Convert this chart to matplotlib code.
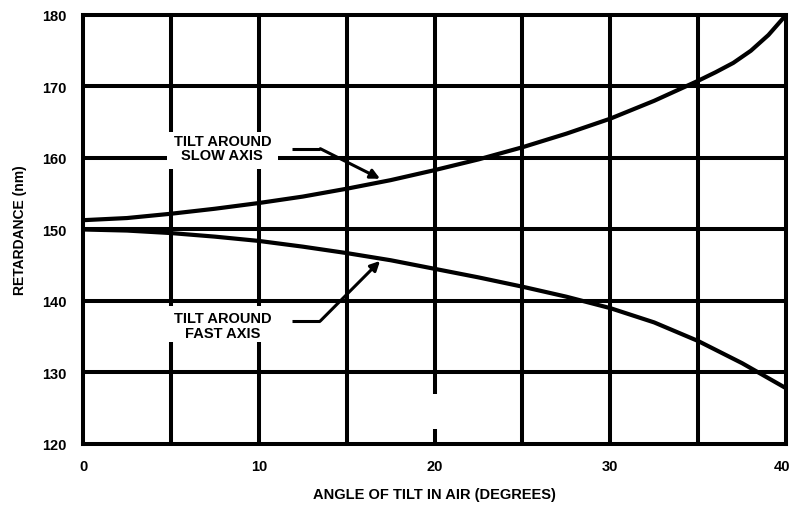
#!/usr/bin/env python3
import matplotlib
matplotlib.use("Agg")
import matplotlib.pyplot as plt
import matplotlib.transforms as mtransforms
from matplotlib.patches import Rectangle


# tilt angle in air (degrees) and retardance (nm)
SLOW_ANGLE = [0, 2.5, 5, 7.5, 10, 12.5, 15, 17.5, 20, 22.5, 25, 27.5, 30, 32.5, 35, 36, 37, 38, 39, 40]
SLOW_RET = [151.3, 151.6, 152.2, 152.9, 153.7, 154.6, 155.7, 156.9, 158.3, 159.8, 161.5, 163.4,
            165.5, 168.0, 170.8, 172.0, 173.3, 175.0, 177.2, 180.0]

FAST_ANGLE = [0, 2.5, 5, 7.5, 10, 12.5, 15, 17.5, 20, 22.5, 25, 27.5, 30, 32.5, 35, 37.5, 40]
FAST_RET = [150.0, 149.85, 149.5, 149.0, 148.4, 147.6, 146.7, 145.7, 144.5, 143.3, 142.0, 140.6,
            139.0, 137.0, 134.4, 131.3, 127.8]

X_TICKS = [0, 10, 20, 30, 40]
Y_TICKS = [120, 130, 140, 150, 160, 170, 180]

FONT = ["Liberation Sans", "DejaVu Sans"]
LW = 2.9


def add_label(ax, text, text_y, box, tip, bend):
    # box = (x0, y0, x1, y1) of the white patch the label sits on
    x0, y0, x1, y1 = box
    ax.add_patch(Rectangle((x0, y0), x1 - x0, y1 - y0, facecolor="white",
                           edgecolor="none", zorder=4.5))
    ax.text((x0 + x1) / 2, text_y, text, ha="center", va="center", fontsize=10.5,
            family=FONT, fontweight="bold", linespacing=1.05, zorder=5)
    ax.plot([bend[0] - 1.6, bend[0]], [bend[1], bend[1]], color="black", lw=2.2,
            solid_capstyle="butt", zorder=6)
    ax.annotate("", xy=tip, xytext=bend, zorder=6,
                arrowprops=dict(arrowstyle="-|>", color="black", lw=2.2,
                                mutation_scale=14, shrinkA=0, shrinkB=0))


def main():
    fig = plt.figure(figsize=(7.91, 5.06), dpi=100)
    ax = fig.add_axes([0.105, 0.1206, 0.8887, 0.8478])

    ax.set_xlim(0, 40)
    ax.set_ylim(120, 180)

    for x in range(5, 40, 5):
        ax.axvline(x, color="black", lw=LW, zorder=1)
    for y in Y_TICKS[1:-1]:
        ax.axhline(y, color="black", lw=LW, zorder=1)

    ax.plot(SLOW_ANGLE, SLOW_RET, color="black", lw=3.0, zorder=3, solid_capstyle="butt")
    ax.plot(FAST_ANGLE, FAST_RET, color="black", lw=3.0, zorder=3, solid_capstyle="butt")

    # blank patch in the x=20 grid line, as in the original scan
    ax.add_patch(Rectangle((19.6, 122.1), 0.8, 4.9, facecolor="white", edgecolor="none", zorder=2))

    add_label(ax, "TILT AROUND\nSLOW AXIS", 161.4, (4.75, 158.4, 11.1, 163.6), (16.9, 157.1), (13.5, 161.3))
    add_label(ax, "TILT AROUND\nFAST AXIS", 136.6, (4.75, 134.3, 11.1, 139.3), (16.9, 145.6), (13.5, 137.2))

    ax.set_xticks(X_TICKS)
    ax.set_yticks(Y_TICKS)
    ax.tick_params(length=0)
    ax.tick_params(axis="x", pad=11)
    ax.tick_params(axis="y", pad=12)
    for lab in ax.get_xticklabels() + ax.get_yticklabels():
        lab.set_family(FONT)
        lab.set_fontsize(10.5)
        lab.set_fontweight("bold")
    last = ax.get_xticklabels()[-1]
    last.set_transform(last.get_transform() + mtransforms.ScaledTranslation(-4 / 100, 0, fig.dpi_scale_trans))

    ax.set_xlabel("ANGLE OF TILT IN AIR (DEGREES)", fontsize=10.5, family=FONT,
                  fontweight="bold", labelpad=10)
    ax.set_ylabel("RETARDANCE (nm)", fontsize=10, family=FONT, fontweight="bold", labelpad=11)

    for spine in ax.spines.values():
        spine.set_linewidth(LW)
        spine.set_color("black")
        spine.set_zorder(4)

    fig.savefig("out.png", dpi=100)
    plt.close(fig)


if __name__ == "__main__":
    main()
